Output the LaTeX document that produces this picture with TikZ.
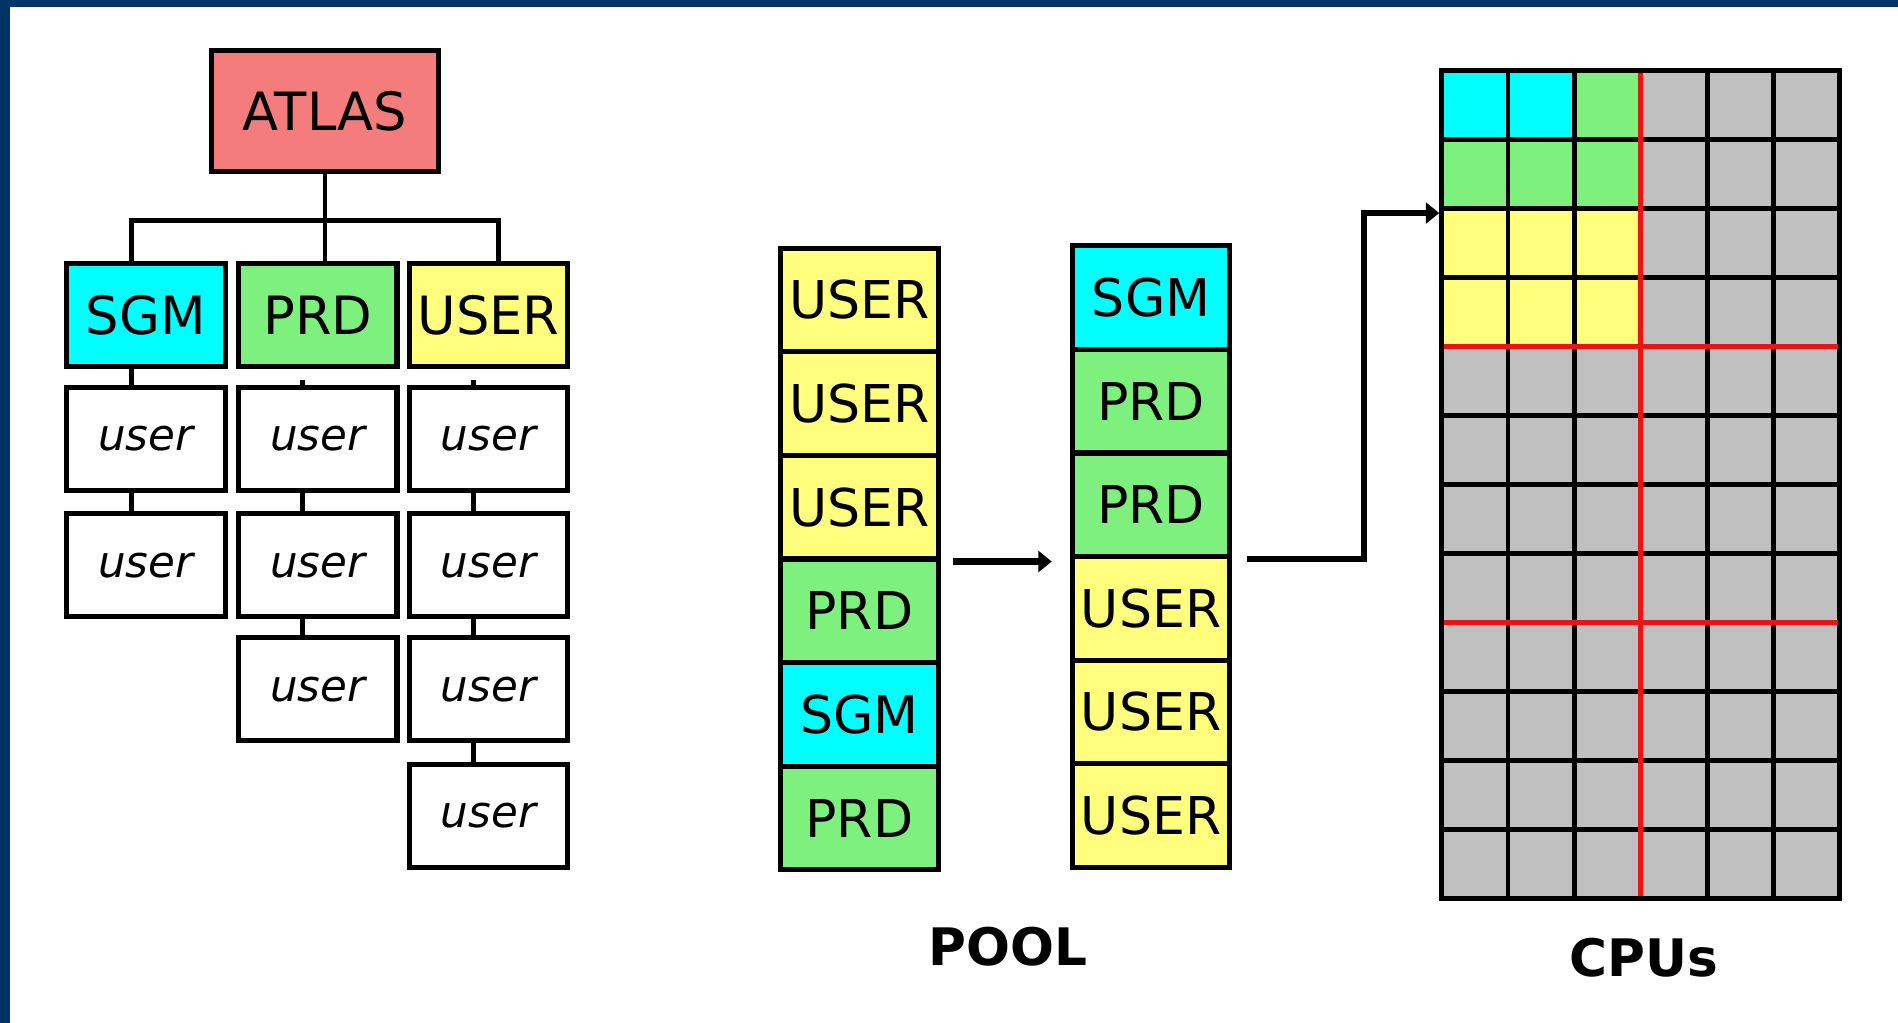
\documentclass[tikz,border=0pt]{standalone}
\usepackage{fontspec}
\setmainfont{DejaVu Sans}
\usetikzlibrary{arrows.meta,calc}
\definecolor{frameblue}{RGB}{0,51,102}
\definecolor{salmon}{RGB}{244,124,124}
\definecolor{cy}{RGB}{0,255,255}
\definecolor{gr}{RGB}{125,240,125}
\definecolor{ye}{RGB}{255,255,125}
\definecolor{gy}{RGB}{192,192,192}
\definecolor{rd}{RGB}{235,20,20}
\begin{document}
\begin{tikzpicture}[x=0.02cm,y=-0.02cm,
  box/.style={draw=black, line width=2.4pt, minimum width=2.62cm, minimum height=1.7cm, inner sep=0pt, font=\fontsize{24.8}{28}\selectfont},
  ubox/.style={box, fill=white, font=\fontsize{20.5}{24}\selectfont\itshape},
  cell/.style={draw=black, line width=2.4pt, minimum width=2.6cm, minimum height=1.712cm, inner sep=0pt, font=\fontsize{24.5}{28}\selectfont},
  conn/.style={line width=2.3pt},
  arr/.style={line width=2.9pt, -{Triangle[length=0.22cm,width=0.34cm]}},
  lbl/.style={font=\fontsize{24.3}{28}\selectfont\bfseries},
  gridline/.style={line width=2.3pt}
]
\useasboundingbox (0,0) rectangle (1568,845);
\fill[white] (0,0) rectangle (1568,845);
\fill[frameblue] (0,0) rectangle (1568,6);
\fill[frameblue] (0,0) rectangle (8,845);

% tree
\node[box, fill=salmon, minimum width=3.74cm, minimum height=2cm] (atlas) at (268.5,92) {ATLAS};
\node[box, fill=cy] (sgm) at (120.5,260.5) {SGM};
\node[box, fill=gr] (prd) at (262.5,260.5) {PRD};
\node[box, fill=ye] (usr) at (403.5,260.5) {USER};
\node[ubox] (a1) at (120.5,362.5) {user};
\node[ubox] (a2) at (120.5,467) {user};
\node[ubox] (b1) at (262.5,362.5) {user};
\node[ubox] (b2) at (262.5,467) {user};
\node[ubox] (b3) at (262.5,569.5) {user};
\node[ubox] (c1) at (403.5,362.5) {user};
\node[ubox] (c2) at (403.5,467) {user};
\node[ubox] (c3) at (403.5,569.5) {user};
\node[ubox] (c4) at (403.5,674) {user};

\draw[conn] (atlas.south) -- ++(0,38) -| ([xshift=-0.23cm]sgm.north);
\draw[conn] (atlas.south) -- ++(0,38) -| ([xshift=0.17cm]usr.north);
\draw[conn] (atlas.south) -- (atlas.south |- prd.north);
\draw[conn] ([xshift=-0.23cm]sgm.south) -- ([xshift=-0.23cm]a1.north);
\draw[conn] ([xshift=-0.23cm]a1.south) -- ([xshift=-0.23cm]a2.north);
\draw[conn, shorten <=0.17cm] ([xshift=-0.25cm]prd.south) -- ([xshift=-0.25cm]b1.north);
\draw[conn] ([xshift=-0.25cm]b1.south) -- ([xshift=-0.25cm]b2.north);
\draw[conn] ([xshift=-0.25cm]b2.south) -- ([xshift=-0.25cm]b3.north);
\draw[conn, shorten <=0.17cm] ([xshift=-0.25cm]usr.south) -- ([xshift=-0.25cm]c1.north);
\draw[conn] ([xshift=-0.25cm]c1.south) -- ([xshift=-0.25cm]c2.north);
\draw[conn] ([xshift=-0.25cm]c2.south) -- ([xshift=-0.25cm]c3.north);
\draw[conn] ([xshift=-0.25cm]c3.south) -- ([xshift=-0.25cm]c4.north);

% pool
\foreach \i/\t/\c in {1/USER/ye,2/USER/ye,3/USER/ye,4/PRD/gr,5/SGM/cy,6/PRD/gr}
  \node[cell, fill=\c] (l\i) at (710,{205+(\i-0.5)*85.6}) {\t};
\foreach \i/\t/\c in {1/SGM/cy,2/PRD/gr,3/PRD/gr,4/USER/ye,5/USER/ye,6/USER/ye}
  \node[cell, fill=\c] (r\i) at (951,{203+(\i-0.5)*85.6}) {\t};
\node[lbl] (pool) at (833,782) {POOL};

\draw[arr] ([xshift=0.2cm]l3.south east) -- ([xshift=-0.3cm]l3.south east -| r3.west);

% CPU grid
\fill[gy] (1191,58) rectangle (1520,742);
\foreach \c/\r/\col in {0/0/cy,1/0/cy,2/0/gr,0/1/gr,1/1/gr,2/1/gr,0/2/ye,1/2/ye,2/2/ye,0/3/ye,1/3/ye,2/3/ye}
  \fill[\col] ({1191+\c*54.833},{58+\r*57}) rectangle ++(54.833,57);
\foreach \c in {1,...,5}
  \draw[gridline] ({1191+\c*54.833},58) -- ({1191+\c*54.833},742);
\foreach \r in {1,...,11}
  \draw[gridline] (1191,{58+\r*57}) -- (1520,{58+\r*57});
\draw[gridline] (1191,58) rectangle (1520,742);
\draw[rd, gridline] (1355.5,60) -- (1355.5,740);
\draw[rd, gridline] (1193,286) -- (1518,286);
\draw[rd, gridline] (1193,514) -- (1518,514);
\coordinate (cpuin) at (1189,176);
\node[lbl] (cpus) at (1358,791) {CPUs};

\draw[arr] ([xshift=0.24cm]r3.south east) -- ++(97,0) |- (cpuin);
\end{tikzpicture}
\end{document}
